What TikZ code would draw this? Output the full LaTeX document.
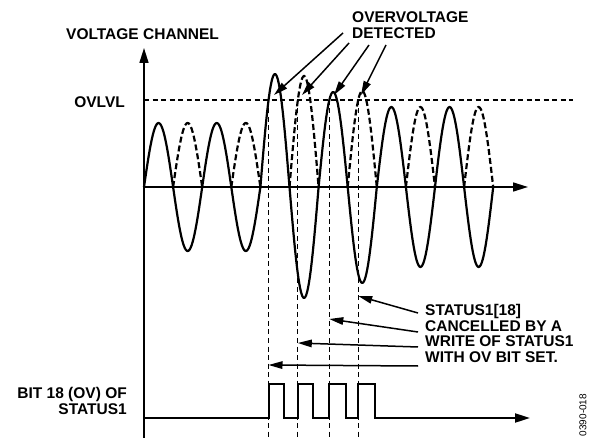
\documentclass[tikz,border=0pt]{standalone}
\usepackage{fontspec}
\setmainfont{Liberation Sans}
\usetikzlibrary{arrows.meta}
\tikzset{
  lbl/.style={font=\fontsize{15.5}{16}\selectfont\bfseries, inner sep=0pt},
  wave/.style={line width=2.2pt, line join=round},
  dwave/.style={line width=2.2pt, dash pattern=on 6pt off 3pt},
  axisline/.style={line width=1.6pt, -{Triangle[length=15pt,width=9pt]}},
  guide/.style={line width=1.1pt, dash pattern=on 5pt off 3.5pt},
  ann/.style={line width=1.5pt, -{Triangle[length=14pt,width=7.5pt]}},
  pulse/.style={line width=2pt, line join=miter, -{Triangle[length=15pt,width=9pt]}}
}
\begin{document}
\begin{tikzpicture}[x=1pt,y=-1pt]
\useasboundingbox (0,0) rectangle (589,438);

% axes
\coordinate (ybot) at (144,438);
\coordinate (ytop) at (144,48);
\coordinate (O) at (144,187);
\coordinate (xend) at (528,187);
\draw[axisline] (ybot) -- (ytop);
\draw[axisline] (O) -- (xend);

% OVLVL threshold
\coordinate (ov0) at (144,100);
\coordinate (ov1) at (573,100);
\draw[guide] (ov0) -- (ov1);

% solid waveform
\draw[wave] (O) \foreach \k/\A/\s in {0/64/1,1/64/-1,2/64/1,3/64/-1,4/113/1,5/111/-1,6/95/1,7/96/-1,8/80/1,9/80/-1,10/80/1,11/80/-1}
  { -- plot[domain=0:29.1,samples=31] ({144+29.1*\k+\x},{187-\s*\A*sin(180*\x/29.1)}) };

% dashed (mirrored) humps
\foreach \k/\A in {1/64,3/64,5/111,7/96,9/80,11/80}
  \draw[dwave] plot[domain=0:29.1,samples=31] ({144+29.1*\k+\x},{187-\A*sin(180*\x/29.1)});

% vertical guides
\foreach \n/\xx in {1/268.5,2/297.8,3/329.3,4/358.2} {
  \coordinate (g\n t) at (\xx,100);
  \coordinate (g\n b) at (\xx,438);
  \draw[guide] (g\n t) -- (g\n b);
}

% bit 18 trace
\coordinate (b0) at (144,418);
\coordinate (bend) at (530,418);
\draw[pulse] (b0) -- (268.5,418) -- (268.5,384) -- (284,384) -- (284,418)
  -- (297.8,418) -- (297.8,384) -- (313,384) -- (313,418)
  -- (329.3,418) -- (329.3,384) -- (346,384) -- (346,418)
  -- (358.2,418) -- (358.2,384) -- (375,384) -- (375,418) -- (bend);

% labels
\node[lbl, anchor=west] (vc) at (66,34) {VOLTAGE CHANNEL};
\node[lbl, anchor=east] (ovl) at (125,102) {OVLVL};
\node[lbl, anchor=north west, align=left] (ovd) at (352,11.5) {OVERVOLTAGE\\DETECTED};
\node[lbl, anchor=north west, align=left, font=\fontsize{15.5}{15.4}\selectfont\bfseries] (st) at (425,304.5) {STATUS1[18]\\CANCELLED BY A\\WRITE OF STATUS1\\WITH OV BIT SET.};
\node[lbl, anchor=north east, align=right] (bit) at (127,387.5) {BIT 18 (OV) OF\\STATUS1};
\node[font=\fontsize{10}{10}\selectfont, inner sep=0pt, rotate=90] (fig) at (583,415) {0390-018};

% overvoltage detected arrows
\coordinate (d1s) at (343,33);  \coordinate (d1t) at (274,95);
\coordinate (d2s) at (349,43);  \coordinate (d2t) at (302,95);
\coordinate (d3s) at (369,45);  \coordinate (d3t) at (334,95);
\coordinate (d4s) at (386,45);  \coordinate (d4t) at (361,95);
\foreach \n in {1,2,3,4} \draw[ann] (d\n s) -- (d\n t);

% status cancelled arrows
\coordinate (c1s) at (418,313); \coordinate (c1t) at (358.2,296);
\coordinate (c2s) at (418,332); \coordinate (c2t) at (329.3,319);
\coordinate (c3s) at (418,347); \coordinate (c3t) at (297.8,343);
\coordinate (c4s) at (418,366); \coordinate (c4t) at (268.5,365);
\foreach \n in {1,2,3,4} \draw[ann] (c\n s) -- (c\n t);
\end{tikzpicture}
\end{document}
